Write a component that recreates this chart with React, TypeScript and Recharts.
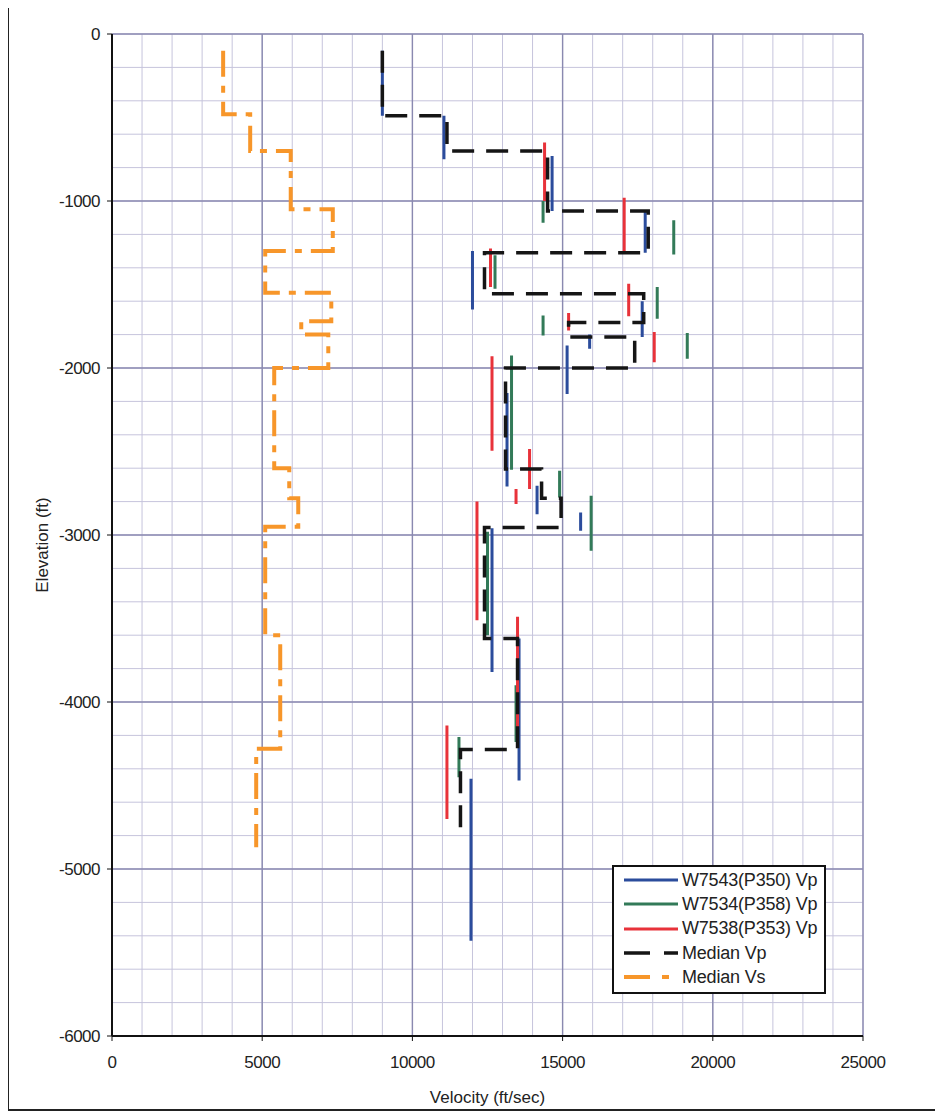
import { LineChart, Line, XAxis, YAxis, CartesianGrid, Legend } from "recharts";

// axis ticks
const velocityTicks = [0, 5000, 10000, 15000, 20000, 25000];
const elevationTicks = [0, -1000, -2000, -3000, -4000, -5000, -6000];
const minorVelocityTicks = [
  0, 1000, 2000, 3000, 4000, 5000, 6000, 7000, 8000, 9000, 10000, 11000, 12000,
  13000, 14000, 15000, 16000, 17000, 18000, 19000, 20000, 21000, 22000, 23000,
  24000, 25000,
];
const minorElevationTicks = [
  0, -200, -400, -600, -800, -1000, -1200, -1400, -1600, -1800, -2000, -2200,
  -2400, -2600, -2800, -3000, -3200, -3400, -3600, -3800, -4000, -4200, -4400,
  -4600, -4800, -5000, -5200, -5400, -5600, -5800, -6000,
];

type Segment = { v: number; top: number; bottom: number };

// well interval velocities (ft/sec) between top and bottom elevation (ft)
const w7543Vp: Segment[] = [
  { v: 9000, top: -100, bottom: -490 },
  { v: 11050, top: -490, bottom: -750 },
  { v: 14650, top: -730, bottom: -1060 },
  { v: 17750, top: -1060, bottom: -1310 },
  { v: 12000, top: -1300, bottom: -1650 },
  { v: 17650, top: -1600, bottom: -1815 },
  { v: 15900, top: -1800, bottom: -1885 },
  { v: 15150, top: -1865, bottom: -2155 },
  { v: 13150, top: -2150, bottom: -2710 },
  { v: 14150, top: -2705, bottom: -2875 },
  { v: 15600, top: -2865, bottom: -2975 },
  { v: 12650, top: -2960, bottom: -3820 },
  { v: 13550, top: -3620, bottom: -4470 },
  { v: 11950, top: -4460, bottom: -5430 },
];

const w7534Vp: Segment[] = [
  { v: 14350, top: -1000, bottom: -1130 },
  { v: 18700, top: -1115, bottom: -1320 },
  { v: 12750, top: -1325, bottom: -1525 },
  { v: 18150, top: -1515, bottom: -1705 },
  { v: 14350, top: -1685, bottom: -1805 },
  { v: 19150, top: -1790, bottom: -1945 },
  { v: 13300, top: -1925, bottom: -2610 },
  { v: 14900, top: -2615, bottom: -2775 },
  { v: 15950, top: -2765, bottom: -3095 },
  { v: 12500, top: -2980, bottom: -3600 },
  { v: 13450, top: -3900, bottom: -4240 },
  { v: 11550, top: -4210, bottom: -4450 },
];

const w7538Vp: Segment[] = [
  { v: 14400, top: -650, bottom: -1000 },
  { v: 17050, top: -980, bottom: -1300 },
  { v: 12600, top: -1285, bottom: -1515 },
  { v: 17200, top: -1495, bottom: -1690 },
  { v: 15200, top: -1670, bottom: -1775 },
  { v: 18050, top: -1785, bottom: -1965 },
  { v: 12650, top: -1930, bottom: -2495 },
  { v: 13900, top: -2485, bottom: -2725 },
  { v: 13450, top: -2725, bottom: -2815 },
  { v: 12150, top: -2800, bottom: -3510 },
  { v: 13500, top: -3490, bottom: -4150 },
  { v: 11150, top: -4140, bottom: -4700 },
];

// median profiles (continuous steps)
const medianVp: Segment[] = [
  { v: 9000, top: -100, bottom: -490 },
  { v: 11150, top: -490, bottom: -700 },
  { v: 14500, top: -700, bottom: -1060 },
  { v: 17850, top: -1060, bottom: -1310 },
  { v: 12400, top: -1310, bottom: -1555 },
  { v: 17700, top: -1555, bottom: -1728 },
  { v: 15200, top: -1728, bottom: -1815 },
  { v: 17400, top: -1815, bottom: -2000 },
  { v: 13100, top: -2000, bottom: -2605 },
  { v: 14300, top: -2605, bottom: -2780 },
  { v: 14950, top: -2780, bottom: -2955 },
  { v: 12400, top: -2955, bottom: -3620 },
  { v: 13500, top: -3620, bottom: -4285 },
  { v: 11600, top: -4285, bottom: -4815 },
];

const medianVs: Segment[] = [
  { v: 3700, top: -100, bottom: -480 },
  { v: 4600, top: -480, bottom: -700 },
  { v: 5950, top: -700, bottom: -1050 },
  { v: 7350, top: -1050, bottom: -1300 },
  { v: 5100, top: -1300, bottom: -1550 },
  { v: 7300, top: -1550, bottom: -1720 },
  { v: 6300, top: -1720, bottom: -1800 },
  { v: 7200, top: -1800, bottom: -2000 },
  { v: 5400, top: -2000, bottom: -2600 },
  { v: 5900, top: -2600, bottom: -2780 },
  { v: 6200, top: -2780, bottom: -2950 },
  { v: 5100, top: -2950, bottom: -3600 },
  { v: 5600, top: -3600, bottom: -4280 },
  { v: 4800, top: -4280, bottom: -4870 },
];

type Pt = { v: number | null; e: number | null };

// separate vertical bars, broken by nulls
function toBars(list: Segment[]): Pt[] {
  const out: Pt[] = [];
  list.forEach((s, i) => {
    if (i > 0) out.push({ v: null, e: null });
    out.push({ v: s.v, e: s.top }, { v: s.v, e: s.bottom });
  });
  return out;
}

// connected step profile
function toSteps(list: Segment[]): Pt[] {
  const out: Pt[] = [];
  list.forEach((s) => {
    out.push({ v: s.v, e: s.top }, { v: s.v, e: s.bottom });
  });
  return out;
}

const series = [
  { name: "W7543(P350) Vp", color: "#2b4c9c", dash: undefined, legendDash: undefined, width: 3, data: toBars(w7543Vp) },
  { name: "W7534(P358) Vp", color: "#327a58", dash: undefined, legendDash: undefined, width: 3, data: toBars(w7534Vp) },
  { name: "W7538(P353) Vp", color: "#e8323a", dash: undefined, legendDash: undefined, width: 3, data: toBars(w7538Vp) },
  { name: "Median Vp", color: "#151515", dash: "22 12", legendDash: "26 14", width: 3.5, data: toSteps(medianVp) },
  { name: "Median Vs", color: "#f7962a", dash: "26 9 7 9", legendDash: "26 12 7 20", width: 4, data: toSteps(medianVs) },
];

const font = "'Liberation Sans', Arial, sans-serif";

function LegendBox() {
  return (
    <div
      style={{
        border: "2px solid #111",
        background: "#fff",
        padding: "1px 0 3px 8px",
        fontFamily: font,
        fontSize: 18,
        color: "#222",
        boxSizing: "border-box",
        width: 214,
      }}
    >
      {series.map((s) => (
        <div key={s.name} style={{ display: "flex", alignItems: "center", height: 24.3 }}>
          <svg width={58} height={12} style={{ flex: "none" }}>
            <line
              x1={2}
              y1={6}
              x2={56}
              y2={6}
              stroke={s.color}
              strokeWidth={s.width}
              strokeDasharray={s.legendDash}
            />
          </svg>
          <span style={{ marginLeft: 2, whiteSpace: "nowrap", letterSpacing: -0.2 }}>{s.name}</span>
        </div>
      ))}
    </div>
  );
}

export default function App() {
  const minorX = ({ xAxis, offset }: any) =>
    minorVelocityTicks.map((t) =>
      typeof xAxis?.scale === "function"
        ? xAxis.scale(t)
        : offset.left + (t / 25000) * offset.width
    );
  const minorY = ({ yAxis, offset }: any) =>
    minorElevationTicks.map((t) =>
      typeof yAxis?.scale === "function"
        ? yAxis.scale(t)
        : offset.top + (-t / 6000) * offset.height
    );

  return (
    <div
      style={{
        width: 932,
        height: 1101,
        border: "2px solid #222",
        marginTop: -2,
        marginLeft: -1,
        background: "#fff",
      }}
    >
      <LineChart
        width={930}
        height={1098}
        margin={{ top: 26, right: 76, bottom: 0, left: 0 }}
      >
        <CartesianGrid
          stroke="#c6c4dc"
          strokeWidth={1}
          verticalCoordinatesGenerator={minorX}
          horizontalCoordinatesGenerator={minorY}
        />
        <CartesianGrid stroke="#8a89b0" strokeWidth={1.4} />
        <XAxis
          type="number"
          dataKey="v"
          domain={[0, 25000]}
          ticks={velocityTicks}
          interval={0}
          allowDataOverflow
          height={70}
          tickSize={5}
          tickMargin={15}
          axisLine={{ stroke: "#111", strokeWidth: 2 }}
          tickLine={{ stroke: "#111" }}
          tick={{ fill: "#222", fontSize: 17, fontFamily: font, letterSpacing: -0.5 }}
          label={{
            value: "Velocity (ft/sec)",
            position: "insideBottom",
            offset: 3,
            fill: "#222",
            fontSize: 17,
            fontFamily: font,
          }}
        />
        <YAxis
          type="number"
          dataKey="e"
          domain={[-6000, 0]}
          ticks={elevationTicks}
          interval={0}
          allowDataOverflow
          width={103}
          tickSize={5}
          tickMargin={7}
          axisLine={{ stroke: "#111", strokeWidth: 2 }}
          tickLine={{ stroke: "#111" }}
          tick={{ fill: "#222", fontSize: 17, fontFamily: font, letterSpacing: -0.5 }}
          label={{
            value: "Elevation (ft)",
            angle: -90,
            position: "center",
            dx: -19,
            dy: 10,
            fill: "#222",
            fontSize: 17,
            fontFamily: font,
          }}
        />
        {series.map((s) => (
          <Line
            key={s.name}
            name={s.name}
            data={s.data}
            dataKey="e"
            type="linear"
            stroke={s.color}
            strokeWidth={s.width}
            strokeDasharray={s.dash}
            strokeLinecap="butt"
            dot={false}
            activeDot={false}
            connectNulls={false}
            isAnimationActive={false}
          />
        ))}
        <Legend
          layout="vertical"
          align="center"
          verticalAlign="middle"
          wrapperStyle={{ left: 603, top: 857, width: 214 }}
          content={() => <LegendBox />}
        />
      </LineChart>
    </div>
  );
}
